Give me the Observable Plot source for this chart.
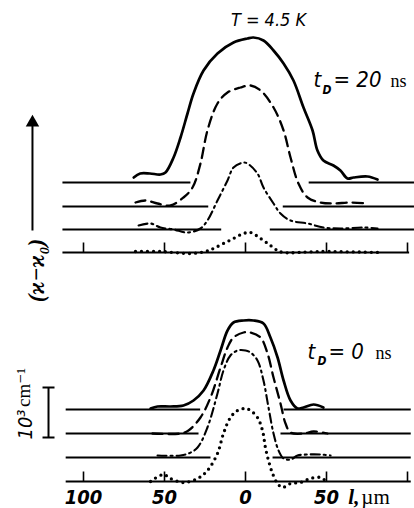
<!DOCTYPE html>
<html>
<head>
<meta charset="utf-8">
<script src="https://cdn.jsdelivr.net/npm/d3@7"></script>
<script src="https://cdn.jsdelivr.net/npm/@observablehq/plot@0.6"></script>
<style>
  html, body { margin: 0; padding: 0; background: #fff; }
  #chart svg { display: block; }
</style>
</head>
<body>
<div id="chart"></div>
<script>
// ---- Data (l in µm, value in 10^3 cm^-1 above each curve's baseline) ----
const styles = ["solid", "dashed", "dashdot", "dotted"];

// t_D = 20 ns panel
const up_solid = [[-69,0.10],[-65,0.18],[-59,0.18],[-52.5,0.16],[-49.4,0.2],[-44.4,0.5],[-40.1,0.9],[-35.8,1.38],[-32.1,1.78],[-25.9,2.24],[-17.3,2.58],[-7.4,2.80],[1.2,2.88],[4.9,2.90],[11.1,2.84],[17.3,2.64],[23.5,2.38],[29.6,2.04],[35.8,1.5],[41.4,1.04],[44.4,0.64],[48.1,0.44],[54.3,0.34],[58.6,0.24],[63,0.08],[66.7,0.1],[75.3,0.12],[81.5,0.06]];
const up_dashed = [[-67.9,0.08],[-61.7,0.12],[-54.3,0.06],[-46.3,0.02],[-38.3,0.18],[-32.7,0.38],[-27.8,0.86],[-23.5,1.52],[-17.3,2.06],[-11.1,2.28],[-3.1,2.38],[3.1,2.42],[9.3,2.32],[17.3,1.98],[23.5,1.52],[27.8,0.98],[32.7,0.46],[38.3,0.18],[46.3,0.08],[54.3,0.06],[64.8,0.08],[75.3,0.06]];
const up_dashdot = [[-66,0.08],[-58.6,0.12],[-52.5,0.04],[-44.4,0],[-35.8,-0.06],[-27.8,0.02],[-23.5,0.18],[-17.3,0.58],[-11.1,0.98],[-7.4,1.24],[-1.2,1.34],[1.2,1.32],[7.4,1.12],[11.1,0.84],[17.3,0.52],[21.6,0.32],[27.8,0.18],[38.3,0.12],[48.1,0.04],[58.6,0.02],[72.8,0.04],[81.5,0.02]];
const up_dotted = [[-67.9,0.02],[-52.5,0.02],[-34,-0.02],[-24.7,0.02],[-19.8,0.08],[-13.6,0.18],[-7.4,0.28],[-1.2,0.38],[3.1,0.40],[9.3,0.28],[15.4,0.14],[19.8,0.04],[23.5,0],[46.3,0.02],[83.3,0]];

// t_D = 0 ns panel
const lo_solid = [[-58.6,0.02],[-54.3,0.06],[-46.3,0.06],[-38.3,0.08],[-32.1,0.18],[-25.9,0.38],[-19.8,0.78],[-15.4,1.18],[-11.1,1.58],[-7.4,1.74],[-1.2,1.78],[4.9,1.78],[11.1,1.72],[15.4,1.44],[19.8,1.04],[23.5,0.58],[27.8,0.18],[32.1,0.02],[35.8,0.04],[42,0.1],[48.1,0.04]];
const lo_dashed = [[-57.4,0],[-40.1,0],[-35.2,0.06],[-27.8,0.32],[-21.6,0.72],[-15.4,1.32],[-11.1,1.72],[-7.4,1.92],[-1.2,2.02],[3.1,2.02],[9.3,1.92],[13.6,1.6],[17.3,1.12],[21.6,0.6],[24.7,0.2],[27.8,0.02],[35.8,0],[42,0.04],[50.6,0]];
const lo_dashdot = [[-54.3,0.04],[-40.1,0.04],[-35.2,0.08],[-29.6,0.2],[-23.5,0.6],[-17.3,1.28],[-13.6,1.74],[-9.3,2.04],[-4.9,2.14],[0,2.14],[3.1,2.1],[7.4,1.94],[11.1,1.54],[14.2,1.0],[17.3,0.48],[20.4,0.14],[23.5,-0.02],[27.8,-0.04],[32.1,0.04],[38.3,0.06],[46.3,0.06],[52.5,0.04]];
const lo_dotted = [[-58.6,0],[-50.6,0.14],[-46.3,0.06],[-38.3,-0.02],[-29.6,0.06],[-23.5,0.22],[-17.3,0.56],[-13.6,0.96],[-9.3,1.28],[-4.9,1.42],[0,1.46],[3.1,1.42],[7.4,1.28],[10.5,1.02],[12.3,0.68],[14.2,0.42],[16.7,0.16],[19.8,-0.04],[22.8,-0.12],[27.8,-0.04],[34,-0.02],[40.1,0.06],[46.3,0.08],[50.6,-0.02]];

// baseline offsets (10^3 cm^-1)
const upperOffsets = [6.52, 6.04, 5.58, 5.12];
const lowerOffsets = [1.98, 1.50, 1.02, 0.54];
// baseline extents and gaps under the peaks (µm)
const upperExtent = [-113, 104];
const lowerExtent = [-111, 102];
const upperGaps = [[-34, 39], [-23, 23], [-15, 15]];
const lowerGaps = [[-28, 23.5], [-29, 21.6], [-21.6, 16.7]];
const upperAxisExtent = [-113, 101];
const lowerAxisExtent = [-111, 102];
// axis ticks and labels
const tickValues = [-100, -50, 0, 50, 100];
const tickLabelValues = [-100, -50, 0, 50];
const tickLabels = ["100", "50", "0", "50"];

// ---- Build tables ----
const upper = [up_solid, up_dashed, up_dashdot, up_dotted];
const lower = [lo_solid, lo_dashed, lo_dashdot, lo_dotted];
const rows = [];
upper.forEach((pts, i) => pts.forEach(([l, v]) => rows.push({l, y: upperOffsets[i] + v, style: styles[i], key: "u" + i})));
lower.forEach((pts, i) => pts.forEach(([l, v]) => rows.push({l, y: lowerOffsets[i] + v, style: styles[i], key: "l" + i})));

const segs = [];
[[upperOffsets, upperGaps, upperExtent], [lowerOffsets, lowerGaps, lowerExtent]].forEach(([offs, gaps, ext]) => {
  gaps.forEach((g, i) => {
    segs.push({x1: ext[0], x2: g[0], y: offs[i]});
    segs.push({x1: g[1], x2: ext[1], y: offs[i]});
  });
});
const axes = [
  {x1: upperAxisExtent[0], x2: upperAxisExtent[1], y: upperOffsets[3]},
  {x1: lowerAxisExtent[0], x2: lowerAxisExtent[1], y: lowerOffsets[3]}
];
const tickH = 0.2;
const ticks = [];
[upperOffsets[3], lowerOffsets[3]].forEach(y0 => tickValues.forEach(t => ticks.push({x: t, y1: y0, y2: y0 + tickH})));
const tickText = tickLabelValues.map((v, i) => ({x: v, label: tickLabels[i]}));

const lineStyle = {
  solid: {strokeWidth: 2.7},
  dashed: {strokeWidth: 2.3, strokeDasharray: "10,6"},
  dashdot: {strokeWidth: 2.1, strokeDasharray: "9,4,2,4"},
  dotted: {strokeWidth: 3.3, strokeDasharray: "0,6", strokeLinecap: "round"}
};

const italicSans = "'Liberation Sans Narrow','DejaVu Sans Condensed','Liberation Sans',sans-serif";
const serif = "'Liberation Serif','DejaVu Serif',serif";

const marks = [];
// baselines
marks.push(Plot.link(segs, {x1: "x1", x2: "x2", y1: "y", y2: "y", stroke: "#000", strokeWidth: 2}));
marks.push(Plot.link(axes, {x1: "x1", x2: "x2", y1: "y", y2: "y", stroke: "#000", strokeWidth: 2}));
marks.push(Plot.link(ticks, {x1: "x", x2: "x", y1: "y1", y2: "y2", stroke: "#000", strokeWidth: 1.6}));
// curves
styles.forEach(s => {
  marks.push(Plot.line(rows.filter(d => d.style === s), {
    x: "l", y: "y", z: "key", curve: "catmull-rom", stroke: "#000", ...lineStyle[s]
  }));
});
// tick labels
marks.push(Plot.text(tickText, {x: "x", y: 0.1, text: "label", fontSize: 20, fontStyle: "italic", fontWeight: "bold", fontFamily: italicSans, lineAnchor: "bottom", fill: "#000"}));
marks.push(Plot.text(["l,"], {x: 63.5, y: 0.1, text: d => d, fontSize: 21, fontStyle: "italic", fontWeight: "bold", fontFamily: serif, textAnchor: "start", lineAnchor: "bottom"}));
marks.push(Plot.text(["µm"], {x: 71.5, y: 0.1, text: d => d, fontSize: 21, fontFamily: serif, textAnchor: "start", lineAnchor: "bottom"}));
// title
marks.push(Plot.text(["T = 4.5 K"], {x: 14.2, y: 9.66, text: d => d, fontSize: 18, fontStyle: "italic", fontFamily: italicSans, textAnchor: "middle", lineAnchor: "bottom"}));
// t_D = 20 ns
marks.push(Plot.text(["t"], {x: 42.0, y: 8.44, text: d => d, fontSize: 22, fontStyle: "italic", fontFamily: italicSans, textAnchor: "start", lineAnchor: "bottom"}));
marks.push(Plot.text(["D"], {x: 47.5, y: 8.30, text: d => d, fontSize: 12, fontStyle: "italic", fontWeight: "bold", fontFamily: italicSans, textAnchor: "start", lineAnchor: "bottom"}));
marks.push(Plot.text(["= 20"], {x: 54.3, y: 8.44, text: d => d, fontSize: 22, fontStyle: "italic", fontFamily: italicSans, textAnchor: "start", lineAnchor: "bottom"}));
marks.push(Plot.text(["ns"], {x: 89.5, y: 8.44, text: d => d, fontSize: 18, fontFamily: serif, textAnchor: "start", lineAnchor: "bottom"}));
// t_D = 0 ns
marks.push(Plot.text(["t"], {x: 38.3, y: 3.0, text: d => d, fontSize: 22, fontStyle: "italic", fontFamily: italicSans, textAnchor: "start", lineAnchor: "bottom"}));
marks.push(Plot.text(["D"], {x: 44.4, y: 2.88, text: d => d, fontSize: 12, fontStyle: "italic", fontWeight: "bold", fontFamily: italicSans, textAnchor: "start", lineAnchor: "bottom"}));
marks.push(Plot.text(["= 0"], {x: 51.2, y: 3.0, text: d => d, fontSize: 22, fontStyle: "italic", fontFamily: italicSans, textAnchor: "start", lineAnchor: "bottom"}));
marks.push(Plot.text(["ns"], {x: 80.2, y: 3.0, text: d => d, fontSize: 18, fontFamily: serif, textAnchor: "start", lineAnchor: "bottom"}));
// y label + arrow
marks.push(Plot.link([{x: -131.5, y1: 5.56, y2: 7.7}], {x1: "x", x2: "x", y1: "y1", y2: "y2", stroke: "#000", strokeWidth: 2}));
marks.push(Plot.dot([{x: -131.5, y: 7.72}], {x: "x", y: "y", symbol: "triangle", r: 5, fill: "#000", stroke: "none"}));
marks.push(Plot.text(["(ϰ−ϰ₀)"], {x: -129, y: 4.76, text: d => d, rotate: -90, fontSize: 23, fontStyle: "italic", fontWeight: "bold", fontFamily: serif, textAnchor: "middle", lineAnchor: "middle"}));
// scale bar 10^3 cm^-1
marks.push(Plot.link([{x: -121.6, y1: 1.42, y2: 2.42}], {x1: "x", x2: "x", y1: "y1", y2: "y2", stroke: "#000", strokeWidth: 2}));
marks.push(Plot.link([{y: 1.42}, {y: 2.42}], {x1: -125.3, x2: -117.9, y1: "y", y2: "y", stroke: "#000", strokeWidth: 2}));
marks.push(Plot.text(["10³"], {x: -136, y: 1.68, text: d => d, rotate: -90, fontSize: 20, fontStyle: "italic", fontFamily: italicSans, textAnchor: "middle", lineAnchor: "middle"}));
marks.push(Plot.text(["cm⁻¹"], {x: -137, y: 2.42, text: d => d, rotate: -90, fontSize: 19, fontFamily: serif, textAnchor: "middle", lineAnchor: "middle"}));

const chart = Plot.plot({
  width: 414,
  height: 508,
  margin: 0,
  x: {domain: [-100, 100], range: [83, 407], axis: null},
  y: {domain: [0, 10.16], range: [508, 0], axis: null},
  style: {background: "#fff"},
  marks
});
document.getElementById("chart").append(chart);
</script>
</body>
</html>
